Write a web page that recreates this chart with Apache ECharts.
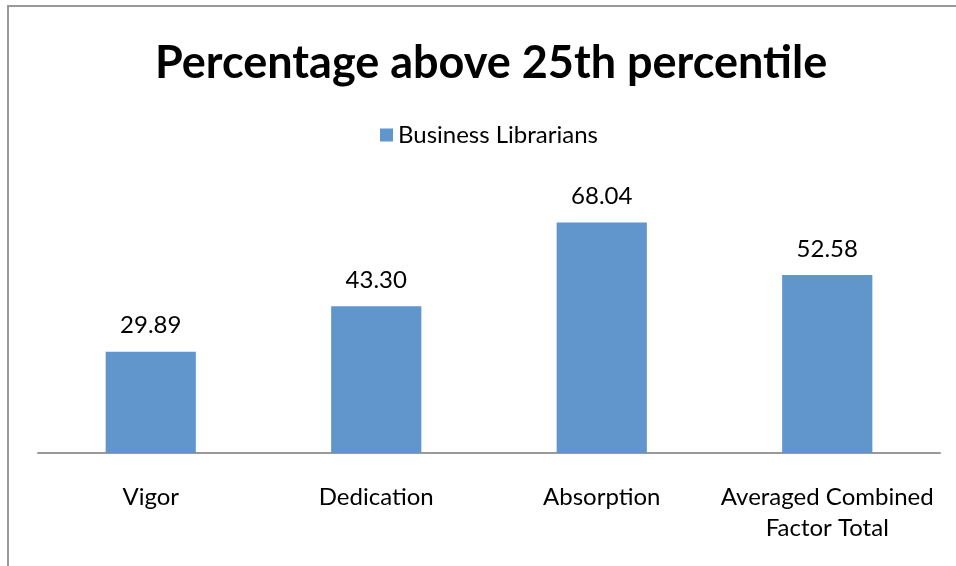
<!DOCTYPE html>
<html>
<head>
<meta charset="utf-8">
<script src="https://cdn.jsdelivr.net/npm/echarts@6/dist/echarts.min.js"></script>
<style>
  html, body { margin: 0; padding: 0; background: #fff; }
  #container { width: 956px; height: 566px; }
</style>
</head>
<body>
<div id="container"></div>
<script type="text/javascript">
    var categories = ['Vigor', 'Dedication', 'Absorption', 'Averaged Combined\nFactor Total'];
    var values = [29.89, 43.30, 68.04, 52.58];
    var seriesName = 'Business Librarians';

    var myChart = echarts.init(document.getElementById('container'));
    var font = 'Lato, "Open Sans", sans-serif';

    var option = {
        backgroundColor: '#fff',
        animation: false,
        title: {
            text: 'Percentage above 25th percentile',
            left: 150,
            top: 36,
            textStyle: { fontFamily: font, fontSize: 45, fontWeight: 'bold', color: '#000' }
        },
        legend: {
            data: [seriesName],
            left: 375,
            top: 118,
            icon: 'rect',
            itemWidth: 13,
            itemHeight: 13,
            itemGap: 9,
            textStyle: { fontFamily: font, fontSize: 24, color: '#000' }
        },
        grid: { left: 38, right: 16, top: 182, bottom: 113, containLabel: false },
        xAxis: {
            type: 'category',
            data: categories,
            axisLine: { lineStyle: { color: '#999', width: 2 } },
            axisTick: { show: false },
            axisLabel: {
                fontFamily: font, fontSize: 24, color: '#000', margin: 29,
                lineHeight: 31, interval: 0
            }
        },
        yAxis: {
            type: 'value',
            min: 0,
            max: 80,
            show: false
        },
        series: [{
            name: seriesName,
            type: 'bar',
            data: values,
            barWidth: '40%',
            itemStyle: { color: '#6096CB' },
            label: {
                show: true,
                position: 'top',
                distance: 14,
                formatter: function (p) { return p.value.toFixed(2); },
                fontFamily: font, fontSize: 24, color: '#000'
            }
        }],
        graphic: [{
            type: 'rect',
            shape: { x: 8, y: 6, width: 1000, height: 700 },
            style: { fill: 'none', stroke: '#999', lineWidth: 2 },
            silent: true
        }]
    };

    myChart.setOption(option);
</script>
</body>
</html>
